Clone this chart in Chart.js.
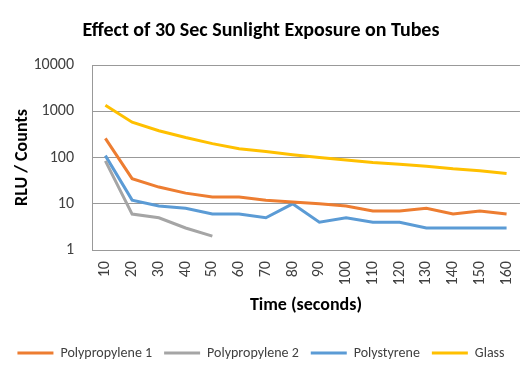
<!DOCTYPE html>
<html>
<head>
<meta charset="utf-8">
<script src="https://cdn.jsdelivr.net/npm/chart.js@4"></script>
<style>
  html, body { margin: 0; padding: 0; background: #fff; }
  #wrap { width: 529px; height: 374px; }
</style>
</head>
<body>
<div id="wrap"><canvas id="chart"></canvas></div>
<script>
// --- Data ---
const times = ['10', '20', '30', '40', '50', '60', '70', '80', '90', '100', '110', '120', '130', '140', '150', '160'];
const polypropylene1 = [260, 35, 23, 17, 14, 14, 12, 11, 10, 9, 7, 7, 8, 6, 7, 6];
const polypropylene2 = [85, 6, 5, 3, 2];
const polystyrene = [110, 12, 9, 8, 6, 6, 5, 10, 4, 5, 4, 4, 3, 3, 3, 3];
const glass = [1350, 580, 380, 270, 200, 155, 135, 115, 100, 88, 78, 72, 65, 57, 52, 45];
const yTicks = [1, 10, 100, 1000, 10000];

const font = 'Calibri, Carlito, "Liberation Sans", Arial, sans-serif';

function line(label, data, color) {
    return {
        label: label,
        data: data,
        borderColor: color,
        backgroundColor: color,
        borderWidth: 3,
        pointRadius: 0,
        tension: 0,
        fill: false
    };
}

new Chart(document.getElementById('chart'), {
    type: 'line',
    data: {
        labels: times,
        datasets: [
            line('Polypropylene 1', polypropylene1, '#ED7D31'),
            line('Polypropylene 2', polypropylene2, '#A5A5A5'),
            line('Polystyrene', polystyrene, '#5B9BD5'),
            line('Glass', glass, '#FFC000')
        ]
    },
    options: {
        responsive: true,
        maintainAspectRatio: false,
        animation: false,
        layout: { padding: { left: 0, right: 7, top: 0, bottom: 4 } },
        plugins: {
            title: {
                display: true,
                text: 'Effect of 30 Sec Sunlight Exposure on Tubes',
                color: '#000',
                font: { family: font, size: 20, weight: 'bold' },
                padding: { top: 19, bottom: 22 }
            },
            legend: {
                position: 'bottom',
                labels: {
                    usePointStyle: true,
                    pointStyle: 'line',
                    pointStyleWidth: 36,
                    color: '#404040',
                    font: { family: font, size: 14 },
                    boxHeight: 3,
                    padding: 12
                }
            },
            tooltip: { enabled: false }
        },
        scales: {
            x: {
                offset: true,
                grid: { display: false, drawTicks: true },
                border: { color: '#999' },
                ticks: {
                    color: '#404040',
                    maxRotation: 90,
                    minRotation: 90,
                    autoSkip: false,
                    font: { family: font, size: 16 }
                },
                title: {
                    display: true,
                    text: 'Time (seconds)',
                    color: '#000',
                    font: { family: font, size: 18, weight: 'bold' },
                    padding: { top: 6, bottom: 18 }
                }
            },
            y: {
                type: 'logarithmic',
                min: 1,
                max: 10000,
                afterBuildTicks: axis => {
                    axis.ticks = yTicks.map(v => ({ value: v }));
                },
                afterFit: axis => { axis.width = 92; },
                grid: { color: '#999', drawTicks: false },
                border: { color: '#999' },
                ticks: {
                    color: '#404040',
                    padding: 18,
                    font: { family: font, size: 16 },
                    callback: v => String(v)
                },
                title: {
                    display: true,
                    text: 'RLU / Counts',
                    color: '#000',
                    font: { family: font, size: 18, weight: 'bold' },
                    padding: { top: 12 }
                }
            }
        }
    }
});
</script>
</body>
</html>
